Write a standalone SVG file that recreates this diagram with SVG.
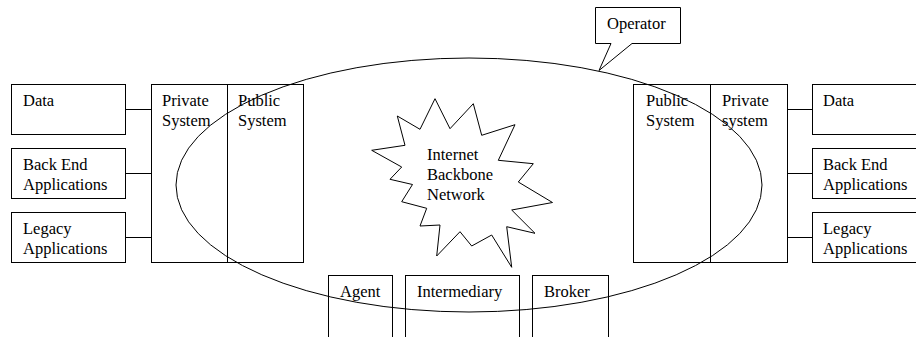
<svg xmlns="http://www.w3.org/2000/svg" width="916" height="337" viewBox="0 0 916 337">
  <style>
    .box { fill: #ffffff; stroke: #000000; stroke-width: 1; }
    .line { fill: none; stroke: #000000; stroke-width: 1; }
    text { font-family: "Liberation Serif", "Times New Roman", serif; font-size: 16.5px; fill: #000000; }
  </style>
  <rect width="916" height="337" fill="#ffffff"/>

  <!-- left side data sources -->
  <g id="left-data">
    <rect class="box" x="11.5" y="84.5" width="114" height="50"/>
    <text x="23" y="105.5">Data</text>
  </g>
  <g id="left-backend">
    <rect class="box" x="11.5" y="148.5" width="114" height="50"/>
    <text x="23" y="169.5">Back End</text>
    <text x="23" y="189.5">Applications</text>
  </g>
  <g id="left-legacy">
    <rect class="box" x="11.5" y="212.5" width="114" height="50"/>
    <text x="23" y="233.5">Legacy</text>
    <text x="23" y="253.5">Applications</text>
  </g>
  <g id="left-private">
    <rect class="box" x="151.5" y="84.5" width="76" height="178"/>
    <text x="162" y="105.5">Private</text>
    <text x="162" y="125.5">System</text>
  </g>
  <g id="left-public">
    <rect class="box" x="227.5" y="84.5" width="76" height="178"/>
    <text x="238" y="105.5">Public</text>
    <text x="238" y="125.5">System</text>
  </g>

  <!-- right side -->
  <g id="right-public">
    <rect class="box" x="633.5" y="84.5" width="77" height="178"/>
    <text x="646" y="105.5">Public</text>
    <text x="646" y="125.5">System</text>
  </g>
  <g id="right-private">
    <rect class="box" x="710.5" y="84.5" width="77" height="178"/>
    <text x="722" y="105.5">Private</text>
    <text x="722" y="125.5">system</text>
  </g>
  <g id="right-data">
    <rect class="box" x="812.5" y="84.5" width="110" height="50"/>
    <text x="823" y="105.5">Data</text>
  </g>
  <g id="right-backend">
    <rect class="box" x="812.5" y="148.5" width="110" height="50"/>
    <text x="823" y="169.5">Back End</text>
    <text x="823" y="189.5">Applications</text>
  </g>
  <g id="right-legacy">
    <rect class="box" x="812.5" y="212.5" width="110" height="50"/>
    <text x="823" y="233.5">Legacy</text>
    <text x="823" y="253.5">Applications</text>
  </g>

  <!-- backbone cloud -->
  <g id="backbone">
    <polygon class="box" points="435,98.7 450,128.7 473.3,103.7 481.7,135.3 515,124.7 498.3,160.3 533.3,163.7 518.3,182 552.5,202.5 511.7,210 535,233.3 506.7,226.7 511.7,267.3 491.7,235 471.7,246 460,231.7 436.7,256 440,225 420,226 426.7,208.3 401.7,201.7 412.5,184.5 390,179.3 401.7,167 371.7,150.3 405,145.3 397.3,116 420,129.3"/>
    <text x="427" y="160">Internet</text>
    <text x="427" y="180">Backbone</text>
    <text x="427" y="200">Network</text>
  </g>

  <!-- service roles along the bottom -->
  <g id="agent">
    <rect class="box" x="328.5" y="275.5" width="64" height="80"/>
    <text x="340" y="296.5">Agent</text>
  </g>
  <g id="intermediary">
    <rect class="box" x="405.5" y="275.5" width="114" height="80"/>
    <text x="417" y="296.5">Intermediary</text>
  </g>
  <g id="broker">
    <rect class="box" x="532.5" y="275.5" width="76" height="80"/>
    <text x="544" y="296.5">Broker</text>
  </g>

  <!-- operator domain -->
  <g id="operator-domain">
    <ellipse class="line" cx="469" cy="185" rx="293" ry="127"/>
  </g>
  <g id="operator">
    <path class="box" d="M595.5,7.5 H680.5 V43.5 H632 L599,70.5 L611,43.5 H595.5 Z"/>
    <text x="607" y="28.5">Operator</text>
  </g>

  <!-- connectors -->
  <g id="connectors">
    <line class="line" x1="125.5" y1="109.5" x2="151.5" y2="109.5"/>
    <line class="line" x1="125.5" y1="173.5" x2="151.5" y2="173.5"/>
    <line class="line" x1="125.5" y1="237.5" x2="151.5" y2="237.5"/>
    <line class="line" x1="787.5" y1="109.5" x2="812.5" y2="109.5"/>
    <line class="line" x1="787.5" y1="173.5" x2="812.5" y2="173.5"/>
    <line class="line" x1="787.5" y1="237.5" x2="812.5" y2="237.5"/>
  </g>
</svg>
